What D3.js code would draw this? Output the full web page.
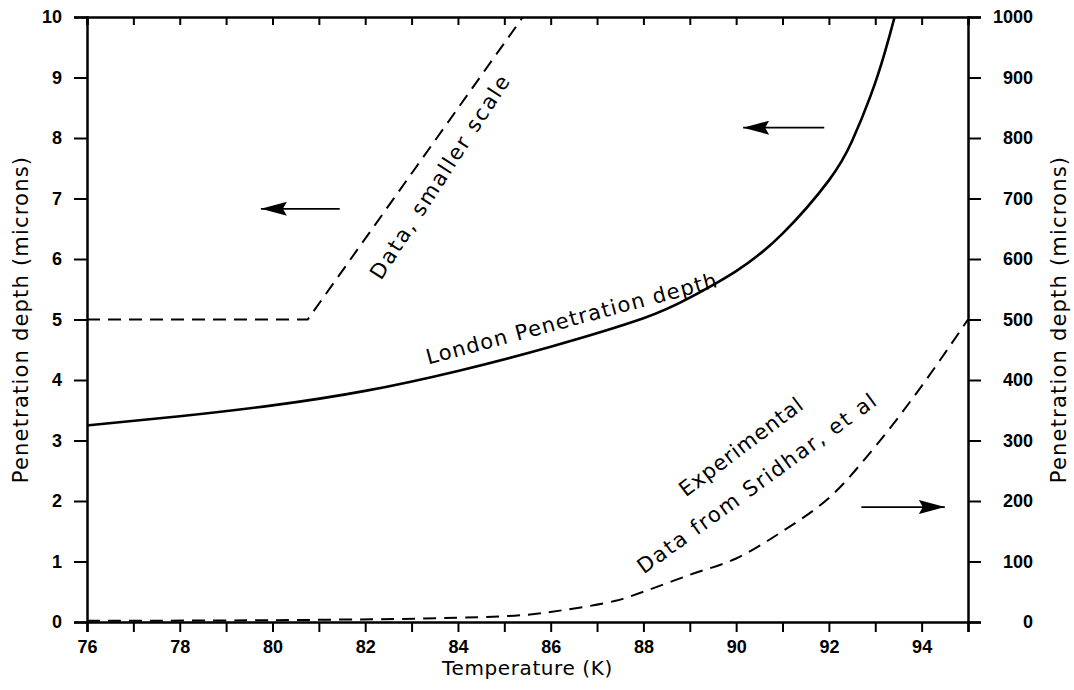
<!DOCTYPE html>
<html lang="en">
<head>
<meta charset="UTF-8">
<title>Penetration depth vs Temperature</title>
<script src="https://cdnjs.cloudflare.com/ajax/libs/d3/7.8.5/d3.min.js"></script>
<style>
  body { margin: 0; background: #fff; }
  svg text { fill: #000; }
</style>
</head>
<body>
<div id="chart"></div>
<script>
// temperature ticks (K)
var xTicks = [76, 78, 80, 82, 84, 86, 88, 90, 92, 94];
var leftTicks = [0, 1, 2, 3, 4, 5, 6, 7, 8, 9, 10];
var rightTicks = [0, 100, 200, 300, 400, 500, 600, 700, 800, 900, 1000];

// London penetration depth (microns, left axis)
var londonT = [76, 78, 80, 82, 84, 86, 88, 89, 90, 91, 92, 92.5, 92.9, 93.2, 93.45, 93.6];
var londonD = [3.25, 3.4, 3.58, 3.82, 4.15, 4.55, 5.02, 5.36, 5.8, 6.42, 7.3, 7.95, 8.7, 9.4, 10.1, 10.6];

// experimental data, smaller scale (left axis)
var smallT = [76, 80.76, 85.4];
var smallD = [5, 5, 10];

// experimental data from Sridhar et al (microns, right axis)
var expT = [76, 80, 84, 85.5, 86.3, 87.4, 88, 89, 90, 91, 92, 93, 94, 95];
var expD = [2, 3, 7, 12, 20, 35, 50, 78, 105, 150, 205, 290, 390, 500];

// arrows: [tail T, head T, value on left axis]
var arrows = [[81.45, 79.75, 6.83], [91.9, 90.15, 8.17], [92.7, 94.5, 1.9]];

var width = 1074, height = 690;
var margin = {top: 17, right: 106, bottom: 68, left: 87};

var svg = d3.select("#chart").append("svg")
    .attr("width", width)
    .attr("height", height);

var x = d3.scaleLinear().domain([76, 95]).range([margin.left, width - margin.right]);
var y = d3.scaleLinear().domain([0, 10]).range([height - margin.bottom, margin.top]);
var y2 = d3.scaleLinear().domain([0, 1000]).range([height - margin.bottom, margin.top]);

var x0 = margin.left, x1 = width - margin.right;
var yb = height - margin.bottom, yt = margin.top;

var tickFont = "Liberation Sans, Arial, sans-serif";
var textFont = "DejaVu Sans, sans-serif";

// bottom axis: outward ticks every 1 K, labels every 2 K
svg.append("g").attr("transform", "translate(0," + yb + ")")
    .call(d3.axisBottom(x).tickValues(d3.range(76, 96, 1)).tickSize(10).tickFormat(""));
svg.append("g").attr("transform", "translate(0," + yb + ")")
    .call(d3.axisBottom(x).tickValues(xTicks).tickSize(0).tickPadding(18))
    .call(function (g) { g.select(".domain").remove(); })
    .selectAll("text")
    .style("font-family", tickFont)
    .style("font-weight", "bold")
    .style("font-size", "18px");

// top axis: inward ticks
svg.append("g").attr("transform", "translate(0," + yt + ")")
    .call(d3.axisTop(x).tickValues(d3.range(76, 96, 1)).tickSize(-8).tickFormat(""));

// left axis
svg.append("g").attr("transform", "translate(" + x0 + ",0)")
    .call(d3.axisLeft(y).tickValues(leftTicks).tickSize(13).tickPadding(12))
    .selectAll("text")
    .style("font-family", tickFont)
    .style("font-weight", "bold")
    .style("font-size", "18px");

// right axis
var right = svg.append("g").attr("transform", "translate(" + x1 + ",0)")
    .call(d3.axisRight(y2).tickValues(rightTicks).tickSize(13).tickPadding(12).tickFormat(d3.format("d")));
right.selectAll("text")
    .attr("text-anchor", "end")
    .attr("x", 65)
    .style("font-family", tickFont)
    .style("font-weight", "bold")
    .style("font-size", "18px");

svg.selectAll(".domain, .tick line")
    .attr("stroke", "#000")
    .attr("stroke-width", 2);
svg.selectAll(".domain").attr("stroke-width", 2.5);

// axis titles
svg.append("text")
    .attr("x", (x0 + x1) / 2)
    .attr("y", 675)
    .attr("text-anchor", "middle")
    .style("font-family", textFont)
    .style("font-size", "20px")
    .style("letter-spacing", "0.6px")
    .text("Temperature (K)");

svg.append("text")
    .attr("transform", "translate(28," + ((yt + yb) / 2) + ") rotate(-90)")
    .attr("text-anchor", "middle")
    .style("font-family", textFont)
    .style("font-size", "21px")
    .style("letter-spacing", "1.2px")
    .text("Penetration depth (microns)");

svg.append("text")
    .attr("transform", "translate(1066," + ((yt + yb) / 2) + ") rotate(-90)")
    .attr("text-anchor", "middle")
    .style("font-family", textFont)
    .style("font-size", "21px")
    .style("letter-spacing", "1.2px")
    .text("Penetration depth (microns)");

// curves
svg.append("clipPath").attr("id", "plot")
    .append("rect").attr("x", x0).attr("y", yt).attr("width", x1 - x0).attr("height", yb - yt);

var lineL = d3.line().curve(d3.curveNatural)
    .x(function (d) { return x(d[0]); })
    .y(function (d) { return y(d[1]); });
var lineR = d3.line().curve(d3.curveCatmullRom.alpha(0.5))
    .x(function (d) { return x(d[0]); })
    .y(function (d) { return y2(d[1]); });

svg.append("path")
    .datum(d3.zip(londonT, londonD))
    .attr("clip-path", "url(#plot)")
    .attr("fill", "none")
    .attr("stroke", "#000")
    .attr("stroke-width", 2.6)
    .attr("d", lineL);

svg.append("path")
    .datum(d3.zip(smallT, smallD))
    .attr("fill", "none")
    .attr("stroke", "#000")
    .attr("stroke-width", 2)
    .attr("stroke-dasharray", "13,8")
    .attr("d", d3.line().x(function (d) { return x(d[0]); }).y(function (d) { return y(d[1]); }));

svg.append("path")
    .datum(d3.zip(expT, expD))
    .attr("fill", "none")
    .attr("stroke", "#000")
    .attr("stroke-width", 2)
    .attr("stroke-dasharray", "13,8")
    .attr("d", lineR);

// arrows
svg.append("defs").append("marker")
    .attr("id", "head")
    .attr("viewBox", "0 0 26 14")
    .attr("refX", 26).attr("refY", 7)
    .attr("markerWidth", 26).attr("markerHeight", 14)
    .attr("markerUnits", "userSpaceOnUse")
    .attr("orient", "auto")
    .append("path")
    .attr("d", "M0,0 L26,7 L0,14 L4,7 Z")
    .attr("fill", "#000");

svg.selectAll(".arrow")
    .data(arrows)
    .enter().append("line")
    .attr("class", "arrow")
    .attr("x1", function (d) { return x(d[0]); })
    .attr("x2", function (d) { return x(d[1]); })
    .attr("y1", function (d) { return y(d[2]); })
    .attr("y2", function (d) { return y(d[2]); })
    .attr("stroke", "#000")
    .attr("stroke-width", 1.8)
    .attr("marker-end", "url(#head)");

// curve labels
function label(t, v, angle, spacing, txt) {
    svg.append("text")
        .attr("transform", "translate(" + x(t) + "," + y(v) + ") rotate(" + angle + ")")
        .attr("text-anchor", "middle")
        .style("font-family", textFont)
        .style("font-size", "21px")
        .style("letter-spacing", spacing + "px")
        .text(txt);
}
label(83.75, 7.3, -57, 2, "Data, smaller scale");
label(86.5, 4.9, -15, 1.2, "London Penetration depth");
label(90.2, 2.8, -37, 0.8, "Experimental");
label(90.55, 2.2, -36, 1.8, "Data from Sridhar, et al");
</script>
</body>
</html>
